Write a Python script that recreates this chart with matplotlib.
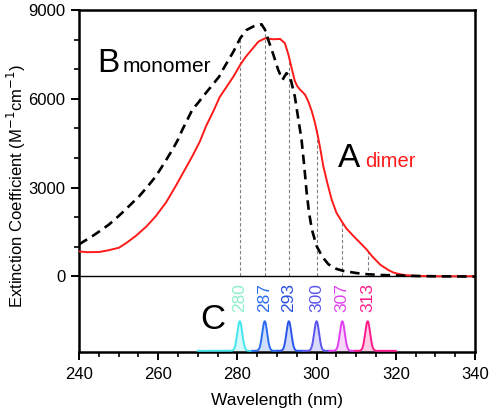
import numpy as np
import matplotlib
matplotlib.use("Agg")
import matplotlib.pyplot as plt

plt.rcParams['font.family'] = ['Liberation Sans', 'DejaVu Sans']

# Monomer (black dashed) spectrum
mono_wl = [240, 241.7, 243.4, 245.5, 247.6, 249.3, 250.9, 253.0, 255.2, 257.3, 259.4, 261.5,
           263.6, 265.0, 266.1, 267.4, 268.6, 270.3, 272.0, 273.9, 275.4, 276.4, 277.7, 279.0,
           280.7, 282.3, 284.4, 286.1, 287.0, 287.8, 289.1, 290.3, 291.4, 292.0, 292.4, 293.3,
           294.1, 294.5, 295.3, 296.2, 296.9, 297.5, 298.1, 298.8, 300.0, 301.5, 303.0, 305.0,
           306.8, 310.0, 312.7, 316.0, 319.3, 325, 330, 335, 340]
mono_val = [1078, 1220, 1360, 1550, 1753, 1950, 2147, 2420, 2706, 3030, 3380, 3820,
            4280, 4620, 4955, 5300, 5629, 5900, 6190, 6500, 6751, 7000, 7300, 7594,
            8044, 8325, 8470, 8517, 8325, 7988, 7482, 6977, 6640, 6780, 6865, 6751,
            6300, 6077, 5390, 4617, 3700, 2820, 2150, 1584, 1022, 650, 404, 250,
            180, 110, 70, 45, 30, 10, 0, -5, -10]

# Dimer (red solid) spectrum
dimer_wl = [240, 242.0, 245.1, 247.5, 250.1, 252.0, 254.3, 257.0, 259.4, 262.0, 264.4, 266.5,
            268.6, 270.5, 272.1, 274.0, 275.5, 277.5, 279.0, 280.7, 282.0, 283.2, 285.3, 287.0,
            289.1, 290.8, 292.0, 292.9, 293.7, 294.5, 295.1, 295.8, 296.5, 297.1, 297.9, 298.8,
            299.6, 300.3, 300.9, 301.7, 302.7, 303.8, 305.0, 306.3, 307.5, 309.3, 311.0, 312.6,
            314.0, 316.0, 318.0, 319.4, 321.0, 322.7, 326, 330, 335, 340]
dimer_val = [840, 815, 820, 880, 966, 1130, 1360, 1680, 2033, 2500, 3044, 3550,
             4054, 4550, 5080, 5600, 6050, 6450, 6751, 7145, 7400, 7594, 7931, 8044,
             8011, 8021, 7877, 7482, 7034, 6600, 6430, 6310, 6220, 6134, 5910, 5572,
             5180, 4750, 4336, 3718, 3158, 2595, 2150, 1865, 1620, 1360, 1130, 910,
             680, 400, 220, 125, 70, 35, 10, 0, 0, 0]

# Excitation wavelengths (panel C)
exc_centers = [280.6, 286.9, 293.0, 300.0, 306.5, 312.9]
exc_labels = ['280', '287', '293', '300', '307', '313']
exc_colors = ['#44e6ee', '#2a6cf0', '#2a55e8', '#5a55f0', '#e040f0', '#ff1a8c']
exc_label_colors = ['#8cf0c8', '#2a6cf0', '#2a50e0', '#5a55f0', '#e040f0', '#ff1a8c']
exc_height = 1000
exc_sigma = 0.62
exc_range = [270, 320]
exc_base = -2520

y_bottom = -2560

fig = plt.figure(figsize=(4.92, 4.12), dpi=100)
ax = fig.add_axes([0.1606, 0.1456, 0.8048, 0.8301])

ax.set_xlim(240, 340)
ax.set_ylim(y_bottom, 9000)

# vertical dashed guides
for c in exc_centers:
    top = max(np.interp(c, mono_wl, mono_val), np.interp(c, dimer_wl, dimer_val))
    ax.plot([c, c], [0, top], color='#808080', lw=0.8, ls=(0, (3, 2)), zorder=1)

ax.axhline(0, color='black', lw=1.0, zorder=2)

ax.plot(dimer_wl, dimer_val, color='#ff1a1a', lw=1.4, zorder=3)
ax.plot(mono_wl, mono_val, color='black', lw=1.9, ls=(0, (3.6, 2.2)), zorder=4)

# excitation profiles
bounds = [exc_range[0]] + [(exc_centers[i] + exc_centers[i + 1]) / 2 for i in range(len(exc_centers) - 1)] + [exc_range[1]]
for i, c in enumerate(exc_centers):
    x = np.linspace(bounds[i], bounds[i + 1], 300)
    y = exc_base + exc_height * np.exp(-0.5 * ((x - c) / exc_sigma) ** 2)
    ax.fill_between(x, exc_base, y, color=exc_colors[i], alpha=0.22, lw=0, zorder=2)
    ax.plot(x, y, color=exc_colors[i], lw=1.4, zorder=3)
    ax.text(c, -1215, exc_labels[i], rotation=90, ha='center', va='bottom',
            fontsize=12.5, color=exc_label_colors[i])

# annotations
ax.text(244.5, 6910, 'B', fontsize=24, ha='left', va='baseline')
ax.text(251.1, 6910, 'monomer', fontsize=15, ha='left', va='baseline')
ax.text(305.4, 3707, 'A', fontsize=24, ha='left', va='baseline')
ax.text(312.2, 3707, 'dimer', fontsize=14.5, ha='left', va='baseline', color='#ff1a1a')
ax.text(270.6, -1786, 'C', fontsize=25, ha='left', va='baseline')

ax.set_xticks([240, 260, 280, 300, 320, 340])
ax.set_xticks(np.arange(240, 341, 5), minor=True)
ax.set_yticks([0, 3000, 6000, 9000])
ax.set_yticks([1000, 2000, 4000, 5000, 7000, 8000], minor=True)
ax.tick_params(which='major', direction='out', length=6, width=1.4, labelsize=12, pad=4)
ax.tick_params(which='minor', direction='out', length=3.5, width=1.2)
ax.tick_params(axis='x', which='major', pad=5)

for s in ax.spines.values():
    s.set_linewidth(1.8)

ax.set_xlabel('Wavelength (nm)', fontsize=12.5, labelpad=8)
ax.set_ylabel('Extinction Coefficient (M$^{-1}$cm$^{-1}$)', fontsize=12)
ax.yaxis.set_label_coords(-0.128, 0.485)

fig.savefig('out.png', dpi=100)
